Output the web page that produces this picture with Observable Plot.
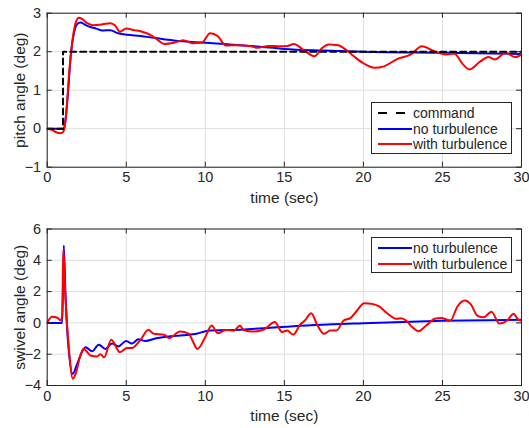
<!DOCTYPE html>
<html><head><meta charset="utf-8">
<script src="https://cdn.jsdelivr.net/npm/d3@7"></script>
<script src="https://cdn.jsdelivr.net/npm/@observablehq/plot@0.6"></script>
<style>
body{margin:0;background:#fff;font-family:"Liberation Sans",Arial,sans-serif}
#wrap{position:relative;width:529px;height:428px;overflow:hidden}
#wrap svg{display:block}
#wrap svg, #wrap svg text{font-family:"Liberation Sans",Arial,sans-serif !important}
.leg{position:absolute;background:#fff;border:1px solid #262626;box-sizing:border-box;font-size:14px;color:#262626}
.row{position:absolute;left:0;height:16px;width:100%}
.row svg{position:absolute;left:3px;top:0}
.row span{position:absolute;left:41px;top:0;line-height:16px;white-space:nowrap}
</style></head><body><div id="wrap"></div><script>
// ---- data ----
const xTicks = [0, 5, 10, 15, 20, 25, 30];
const pitchTicks = [-1, 0, 1, 2, 3];
const swivelTicks = [-4, -2, 0, 2, 4, 6];

const cmdT = [0, 1.0, 1.0, 30];
const cmdV = [0, 0, 2, 2];

const pitchNoT = [0, 1.05, 1.1, 1.3, 1.5, 1.7, 1.9, 2.1, 2.4, 2.74, 3.1, 3.48, 4.0, 4.4, 5.05, 5.9, 6.75, 8.0, 10, 12.2, 14.3, 15, 17.5, 20, 25, 30];
const pitchNoV = [0, 0, 0.05, 0.85, 1.95, 2.5, 2.72, 2.76, 2.7, 2.64, 2.6, 2.55, 2.56, 2.49, 2.44, 2.41, 2.36, 2.29, 2.23, 2.17, 2.1, 2.07, 2.03, 2.0, 1.97, 1.94];

const pitchWithT = [0, 0.3, 0.6, 0.9, 1.05, 1.2, 1.4, 1.6, 1.8, 2.0, 2.2, 2.5, 2.9, 3.5, 4.0, 4.3, 4.6, 5.0, 5.5, 6.0, 6.6, 7.0, 7.4, 8.0, 8.6, 9.2, 9.8, 10.3, 10.8, 11.3, 12.0, 12.8, 13.3, 14.0, 14.7, 15.2, 15.6, 16.2, 16.9, 17.4, 17.8, 18.4, 18.9, 19.4, 20.0, 20.7, 21.3, 22.1, 23.0, 23.7, 24.5, 25.2, 25.75, 26.3, 26.7, 27.4, 27.9, 28.3, 29.0, 29.6, 30];
const pitchWithV = [0, -0.03, -0.1, -0.12, -0.05, 0.4, 1.5, 2.3, 2.75, 2.88, 2.85, 2.75, 2.69, 2.71, 2.74, 2.68, 2.52, 2.6, 2.56, 2.52, 2.42, 2.3, 2.2, 2.23, 2.3, 2.22, 2.24, 2.48, 2.4, 2.16, 2.17, 2.15, 2.1, 2.15, 2.14, 2.15, 2.2, 2.05, 1.88, 2.1, 2.19, 2.17, 2.05, 1.88, 1.7, 1.58, 1.62, 1.8, 1.93, 2.14, 2.01, 1.93, 1.95, 1.67, 1.54, 1.75, 1.86, 1.8, 1.97, 1.86, 1.93];

const swivelNoT = [0, 0.95, 1.05, 1.15, 1.3, 1.62, 1.9, 2.42, 2.84, 3.26, 3.68, 4.1, 4.5, 5.0, 5.35, 5.77, 6.2, 6.9, 7.8, 8.6, 9.5, 10.1, 12.2, 14.35, 15.2, 20, 25, 30];
const swivelNoV = [0, 0, 4.95, 2.0, -1.0, -3.25, -2.6, -1.55, -1.81, -1.39, -1.66, -1.31, -1.5, -1.15, -1.32, -1.05, -1.15, -0.98, -0.85, -0.79, -0.68, -0.51, -0.43, -0.3, -0.24, -0.02, 0.13, 0.2];

const swivelWithT = [0, 0.3, 0.63, 0.87, 0.95, 1.02, 1.15, 1.37, 1.62, 1.8, 2.1, 2.3, 2.74, 3.15, 3.37, 3.6, 4.05, 4.6, 5.05, 5.35, 5.9, 6.4, 6.75, 7.4, 7.7, 8.4, 8.95, 9.2, 9.5, 10.0, 10.4, 10.8, 11.3, 11.8, 12.2, 12.4, 13.05, 13.7, 14.4, 14.85, 15.18, 15.56, 16.0, 16.3, 16.7, 17.1, 17.5, 17.9, 18.3, 18.75, 19.2, 19.6, 20.05, 20.5, 21.0, 21.5, 22.1, 22.4, 22.7, 23.1, 23.5, 23.97, 24.5, 24.9, 25.5, 25.95, 26.4, 26.8, 27.2, 27.6, 28.1, 28.6, 29.1, 29.5, 29.8, 30];
const swivelWithV = [0, 0.4, 0.33, 0.15, 0.5, 4.7, 1.65, -1.6, -3.57, -3.25, -2.08, -1.65, -2.08, -2.15, -2.0, -2.2, -1.08, -1.87, -1.6, -1.6, -1.08, -0.44, -0.7, -0.75, -0.98, -0.55, -0.68, -1.15, -1.66, -0.9, -0.17, -0.66, -0.45, -0.5, -0.17, -0.45, -0.55, -0.43, 0.05, -0.58, -0.49, -0.75, -0.11, 0.15, 0.62, -0.17, -0.7, -0.49, -0.49, 0.15, 0.32, 0.79, 1.26, 1.22, 1.05, 0.62, 0.26, 0.3, 0.15, -0.28, -0.53, -0.17, 0.26, 0.32, 0.15, 1.05, 1.43, 1.18, 0.47, 0.36, 0.72, -0.04, 0.15, 0.58, 0.2, 0.15];

const zip = (t, v) => t.map((x, i) => ({t: x, v: v[i]}));

const FONT = "Liberation Sans";
const AX = "#262626";
const W = 529, ML = 46.7, MR = 8;

function chart({height, marginTop, marginBottom, yDomain, yTicks, ylabel, lines}) {
  const ph = height - marginTop - marginBottom;
  const pw = W - ML - MR;
  const tl = 5;
  return Plot.plot({
    width: W, height, marginLeft: ML, marginRight: MR, marginTop, marginBottom,
    style: {fontFamily: FONT, fontSize: "14px", color: AX, background: "#fff"},
    x: {domain: [0, 30]},
    y: {domain: yDomain},
    marks: [
      Plot.gridX(xTicks, {stroke: "#dedede", strokeOpacity: 1}),
      Plot.gridY(yTicks, {stroke: "#dedede", strokeOpacity: 1}),
      ...lines.map(l => Plot.line(l.data, {x: "t", y: "v", stroke: l.color, strokeWidth: 2, strokeDasharray: l.dash, curve: l.curve || "monotone-x", clip: true})),
      Plot.tickX(xTicks, {x: d => d, insetTop: ph - tl, stroke: AX}),
      Plot.tickX(xTicks, {x: d => d, insetBottom: ph - tl, stroke: AX}),
      Plot.tickY(yTicks, {y: d => d, insetRight: pw - tl, stroke: AX}),
      Plot.tickY(yTicks, {y: d => d, insetLeft: pw - tl, stroke: AX}),
      Plot.frame({stroke: AX}),
      Plot.axisX(xTicks, {tickSize: 0, tickPadding: 5, label: null, fontSize: 14.5, fill: AX}),
      Plot.axisY(yTicks, {tickSize: 0, tickPadding: 6, label: null, fontSize: 14.5, fill: AX}),
      Plot.text(["time (sec)"], {frameAnchor: "bottom", dy: 31, lineAnchor: "middle", fontSize: 15.5, fill: AX}),
      Plot.text([ylabel], {frameAnchor: "left", dx: -27, rotate: -90, lineAnchor: "middle", textAnchor: "middle", fontSize: 15.5, fill: AX})
    ]
  });
}

const wrap = document.getElementById("wrap");
wrap.appendChild(chart({
  height: 214, marginTop: 12.7, marginBottom: 47.3, yDomain: [-1, 3], yTicks: pitchTicks,
  ylabel: "pitch angle (deg)",
  lines: [
    {data: zip(pitchNoT, pitchNoV), color: "#0000ff"},
    {data: zip(pitchWithT, pitchWithV), color: "#ff0000"},
    {data: zip(cmdT, cmdV), color: "#000000", dash: "6,4", curve: "linear"}
  ]
}));
wrap.appendChild(chart({
  height: 214, marginTop: 14.5, marginBottom: 43, yDomain: [-4, 6], yTicks: swivelTicks,
  ylabel: "swivel angle (deg)",
  lines: [
    {data: zip(swivelNoT, swivelNoV), color: "#0000ff"},
    {data: zip(swivelWithT, swivelWithV), color: "#ff0000"}
  ]
}));

function legend(left, top, items) {
  const d = document.createElement("div");
  d.className = "leg";
  d.style.left = left + "px"; d.style.top = top + "px";
  d.style.width = "141px"; d.style.height = (items.length * 15.5 + 5) + "px";
  items.forEach((it, i) => {
    const r = document.createElement("div");
    r.className = "row";
    r.style.top = (2 + i * 15.5) + "px";
    const line = it.dash
      ? `<line x1="3" x2="30" y1="8" y2="8" stroke="${it.color}" stroke-width="2" stroke-dasharray="9,9"/>`
      : `<line x1="3" x2="37" y1="8" y2="8" stroke="${it.color}" stroke-width="2"/>`;
    r.innerHTML = `<svg width="38" height="16">${line}</svg><span>${it.label}</span>`;
    d.appendChild(r);
  });
  wrap.appendChild(d);
}
legend(371, 102, [
  {label: "command", color: "#000", dash: true},
  {label: "no turbulence", color: "#0000ff"},
  {label: "with turbulence", color: "#ff0000"}
]);
legend(371, 237, [
  {label: "no turbulence", color: "#0000ff"},
  {label: "with turbulence", color: "#ff0000"}
]);
</script></body></html>
